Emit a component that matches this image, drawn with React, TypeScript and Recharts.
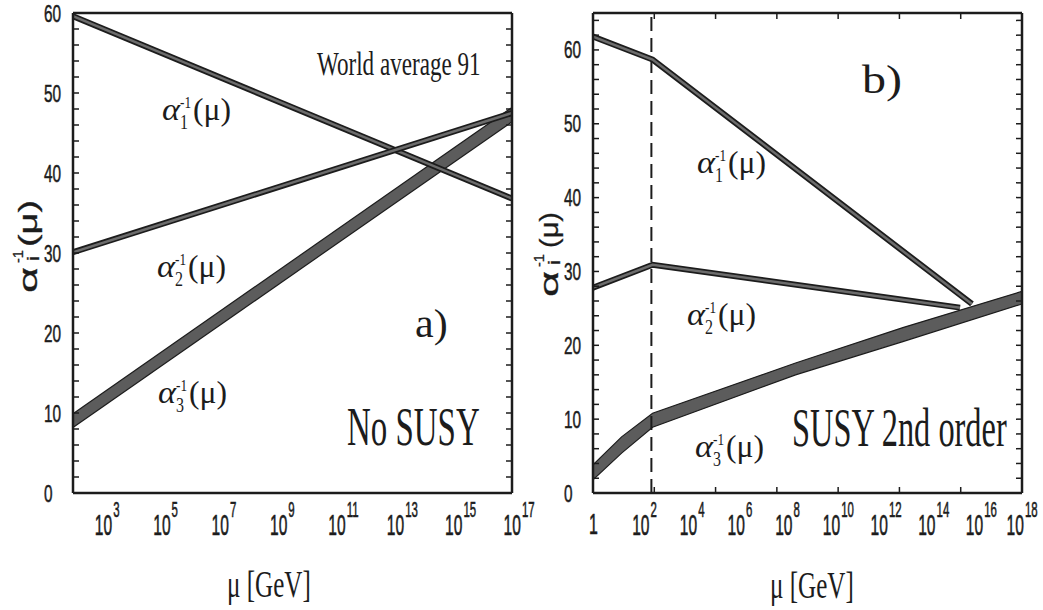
import React from 'react';
import { ComposedChart, Line, Area, XAxis, YAxis, ReferenceLine } from 'recharts';

// mu is stored as log10(mu / GeV)
const noSusyMu = [1.96, 17];
const noSusyAlpha1 = [59.6, 36.8];
const noSusyAlpha2 = [30.1, 47.5];
const noSusyAlpha3Low = [8.2, 46.4];
const noSusyAlpha3High = [9.9, 48.2];

const susyAlpha1Mu = [0, 2.5, 15.9];
const susyAlpha1 = [61.8, 58.7, 25.6];
const susyAlpha2Mu = [0, 2.5, 15.4];
const susyAlpha2 = [27.8, 30.9, 25.1];
const susyAlpha3Mu = [0, 1.2, 2.5, 8.5, 13, 18];
const susyAlpha3Low = [1.8, 5.4, 8.9, 16.0, 20.5, 25.6];
const susyAlpha3High = [3.8, 7.6, 10.8, 17.6, 22.4, 27.3];

const mSusy = 2.45;

const noSusyXTicks = [3, 5, 7, 9, 11, 13, 15, 17];
const susyXTicks = [0, 2, 4, 6, 8, 10, 12, 14, 16, 18];
const yLabelTicks = [0, 10, 20, 30, 40, 50, 60];

const INK = '#1c1c1c';
const SANS = '"Liberation Sans", Arial, sans-serif';
const SERIF = '"Liberation Serif", "Times New Roman", serif';

const steps = (from: number, to: number, by: number) => {
  const out: number[] = [];
  for (let v = from; v <= to + 1e-9; v += by) out.push(+v.toFixed(4));
  return out;
};

type Row = { mu: number; [k: string]: any };

function merge(parts: [string, number[], any[]][]) {
  const m = new Map<number, Row>();
  parts.forEach(([key, xs, vs]) =>
    xs.forEach((x, i) => {
      const r = m.get(x) ?? { mu: x };
      r[key] = vs[i];
      m.set(x, r);
    })
  );
  return [...m.values()].sort((a, b) => a.mu - b.mu);
}

const noSusyRows = merge([
  ['a1', noSusyMu, noSusyAlpha1],
  ['a2', noSusyMu, noSusyAlpha2],
  ['a3', noSusyMu, noSusyAlpha3Low.map((l, i) => [l, noSusyAlpha3High[i]])],
]);

const susyRows = merge([
  ['a1', susyAlpha1Mu, susyAlpha1],
  ['a2', susyAlpha2Mu, susyAlpha2],
  ['a3', susyAlpha3Mu, susyAlpha3Low.map((l, i) => [l, susyAlpha3High[i]])],
]);

const NoTick = () => <g />;

const makePowTick = (lastShift: number, last: number) => ({ x, y, payload }: any) => {
  const n = payload.value;
  const cx = n === last ? x - lastShift : x;
  if (n === 0) {
    return (
      <text transform={`translate(${cx - 4},${y + 41}) scale(0.55,1)`} fontFamily={SANS} fontSize={29}
        fill={INK} stroke={INK} strokeWidth={0.6}>1</text>
    );
  }
  return (
    <text transform={`translate(${cx - 8.5},${y + 42}) scale(0.52,1)`} fontFamily={SANS} fill={INK}
      stroke={INK} strokeWidth={0.6}>
      <tspan fontSize={30}>10</tspan>
      <tspan dx={2} dy={-18} fontSize={22}>{n}</tspan>
    </text>
  );
};

const YTick = ({ x, y, payload }: any) => (
  <text transform={`translate(${x - 29},${y + 8.5}) scale(0.64,1)`} fontFamily={SANS} fontSize={24}
    fill={INK} stroke={INK} strokeWidth={0.5}>{payload.value}</text>
);

const AlphaLabel = ({ x, y, n }: { x: number; y: number; n: string }) => (
  <text x={x} y={y} fontFamily={SERIF} fill={INK}>
    <tspan fontSize={32} fontStyle="italic" textLength={18} lengthAdjust="spacingAndGlyphs">α</tspan>
    <tspan x={x + 18} dy={-12} fontSize={17} textLength={11} lengthAdjust="spacingAndGlyphs">-1</tspan>
    <tspan x={x + 18} dy={21} fontSize={20} textLength={8} lengthAdjust="spacingAndGlyphs">{n}</tspan>
    <tspan x={x + 31} dy={-9} fontSize={32} textLength={38} lengthAdjust="spacingAndGlyphs">(μ)</tspan>
  </text>
);

const YTitle = ({ x, y, parenAt, parenLen }: { x: number; y: number; parenAt: number; parenLen: number }) => (
  <g transform={`translate(${x},${y}) rotate(-90)`}>
    <text x={0} y={0} fontFamily={SANS} fill={INK} stroke={INK} strokeWidth={0.3}>
      <tspan fontSize={26} textLength={26} lengthAdjust="spacingAndGlyphs">α</tspan>
      <tspan x={30} dy={-14} fontSize={15} textLength={13} lengthAdjust="spacingAndGlyphs">-1</tspan>
      <tspan x={32} dy={16} fontSize={16} textLength={5} lengthAdjust="spacingAndGlyphs">i</tspan>
      <tspan x={parenAt} dy={-2} fontSize={26} textLength={parenLen} lengthAdjust="spacingAndGlyphs">(μ)</tspan>
    </text>
  </g>
);

// condensed serif text, squeezed horizontally like the scanned figure
const Squeezed = ({ x, y, size, sx, children }: any) => (
  <text transform={`translate(${x},${y}) scale(${sx},1)`} fontFamily={SERIF} fontSize={size} fill={INK}>{children}</text>
);

function Panel({ rows, xDomain, xTicks, decades, yMax, withSusyLine, width, marginRight, yWidth, lastShift }: any) {
  const frame = { stroke: INK, strokeWidth: 2.5 };
  const tickStroke = { stroke: INK, strokeWidth: 1.5 };
  const minorY = steps(0, yMax, 2);
  const majorY = yLabelTicks.filter((v) => v <= yMax);
  const PowTick = makePowTick(lastShift, xDomain[1]);
  return (
    <ComposedChart width={width} height={610} data={rows} margin={{ top: 13, right: marginRight, bottom: 0, left: 0 }}>
      <XAxis dataKey="mu" type="number" domain={xDomain} allowDataOverflow ticks={xTicks} interval={0}
        tick={<PowTick />} tickLine={false} tickSize={0} tickMargin={0} axisLine={frame} height={117} />
      <XAxis xAxisId="bm" type="number" domain={xDomain} allowDataOverflow ticks={decades} interval={0}
        mirror tick={<NoTick />} tickSize={6} tickLine={tickStroke} axisLine={false} />
      <XAxis xAxisId="tm" orientation="top" type="number" domain={xDomain} allowDataOverflow ticks={decades}
        interval={0} mirror tick={<NoTick />} tickSize={6} tickLine={tickStroke} axisLine={frame} />
      <YAxis type="number" domain={[0, yMax]} allowDataOverflow ticks={majorY} interval={0} width={yWidth}
        tick={<YTick />} tickLine={false} tickSize={0} tickMargin={0} axisLine={frame} />
      <YAxis yAxisId="lm" type="number" domain={[0, yMax]} allowDataOverflow ticks={minorY} interval={0}
        mirror tick={<NoTick />} tickSize={6} tickLine={tickStroke} axisLine={false} />
      <YAxis yAxisId="rm" orientation="right" type="number" domain={[0, yMax]} allowDataOverflow ticks={minorY}
        interval={0} mirror tick={<NoTick />} tickSize={6} tickLine={tickStroke} axisLine={frame} />
      {withSusyLine && (
        <ReferenceLine x={mSusy} stroke={INK} strokeWidth={2} strokeDasharray="14 7" />
      )}
      <Area dataKey="a3" type="linear" connectNulls stroke={INK} strokeWidth={1.2} fill="#5c5c5c" fillOpacity={1}
        dot={false} activeDot={false} isAnimationActive={false} />
      <Line dataKey="a1" type="linear" connectNulls stroke={INK} strokeWidth={6} dot={false} activeDot={false} isAnimationActive={false} />
      <Line dataKey="a1" type="linear" connectNulls stroke="#6c6c6c" strokeWidth={2.5} dot={false} activeDot={false} isAnimationActive={false} />
      <Line dataKey="a2" type="linear" connectNulls stroke={INK} strokeWidth={6} dot={false} activeDot={false} isAnimationActive={false} />
      <Line dataKey="a2" type="linear" connectNulls stroke="#6c6c6c" strokeWidth={2.5} dot={false} activeDot={false} isAnimationActive={false} />
    </ComposedChart>
  );
}

export default function App() {
  return (
    <div style={{ position: 'fixed', left: 0, top: 0, width: 1043, height: 610, background: '#fff', overflow: 'hidden' }}>
      <div style={{ position: 'absolute', left: 0, top: 0 }}>
        <Panel rows={noSusyRows} xDomain={[1.96, 17]} xTicks={noSusyXTicks} decades={steps(2, 17, 1)}
          yMax={60} width={545} marginRight={33} yWidth={73} lastShift={0} />
      </div>
      <div style={{ position: 'absolute', left: 530, top: 0 }}>
        <Panel rows={susyRows} xDomain={[0, 18]} xTicks={susyXTicks} decades={steps(0, 18, 1)}
          yMax={65} width={513} marginRight={21} yWidth={63} lastShift={7} withSusyLine />
      </div>
      <svg width={1043} height={610} style={{ position: 'absolute', left: 0, top: 0, pointerEvents: 'none' }}>
        <Squeezed x={317} y={75} size={33} sx={0.7}>World average 91</Squeezed>
        <Squeezed x={415} y={337} size={40} sx={1.05}>a)</Squeezed>
        <Squeezed x={347} y={445} size={54} sx={0.61}>No SUSY</Squeezed>
        <Squeezed x={862} y={93} size={40} sx={1.2}>b)</Squeezed>
        <Squeezed x={792} y={446} size={54} sx={0.6}>SUSY 2nd order</Squeezed>
        <Squeezed x={227} y={597} size={38} sx={0.66}>μ [GeV]</Squeezed>
        <Squeezed x={770} y={598} size={38} sx={0.66}>μ [GeV]</Squeezed>
        <AlphaLabel x={162} y={120} n="1" />
        <AlphaLabel x={157} y={277} n="2" />
        <AlphaLabel x={158} y={403} n="3" />
        <AlphaLabel x={697} y={173} n="1" />
        <AlphaLabel x={687} y={325} n="2" />
        <AlphaLabel x={695} y={457} n="3" />
        <YTitle x={37} y={293} parenAt={46} parenLen={47} />
        <YTitle x={558} y={297} parenAt={49} parenLen={36} />
      </svg>
    </div>
  );
}
